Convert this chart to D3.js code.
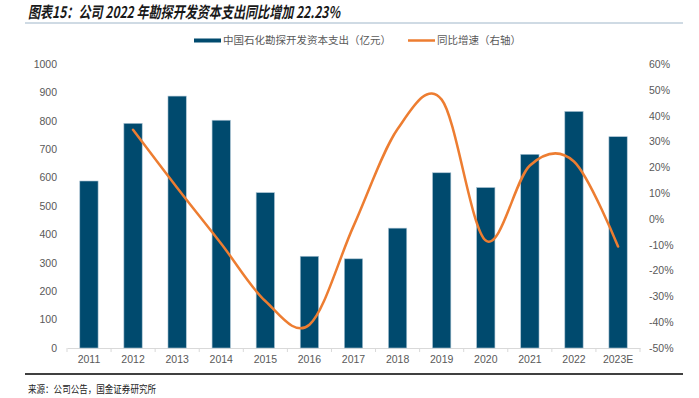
<!DOCTYPE html>
<html>
<head>
<meta charset="utf-8">
<script src="https://cdn.jsdelivr.net/npm/d3@7"></script>
<style>
  body { margin: 0; background: #fff; }
  text { font-family: "Liberation Sans", Arial, "Noto Sans CJK SC", sans-serif; }
</style>
</head>
<body>
<div id="chart"></div>
<script>
// data
var years = ["2011", "2012", "2013", "2014", "2015", "2016", "2017", "2018", "2019", "2020", "2021", "2022", "2023E"];
var capex = [588, 791, 887, 802, 547, 323, 314, 422, 617, 565, 682, 833, 744];
var growth = [null, 34.5, 12.1, -9.6, -31.8, -41.0, -2.8, 34.8, 46.2, -8.4, 20.7, 22.23, -10.7];
var leftTicks = [0, 100, 200, 300, 400, 500, 600, 700, 800, 900, 1000];
var rightTicks = [-50, -40, -30, -20, -10, 0, 10, 20, 30, 40, 50, 60];

var svgW = 699;
var svgH = 398;
var margin = { top: 64, right: 59, bottom: 50, left: 67 };
var width = svgW - margin.left - margin.right;
var height = 348 - margin.top;

var svg = d3.select("#chart")
  .append("svg")
  .attr("width", svgW)
  .attr("height", svgH);

// title + rules
svg.append("text")
  .attr("x", 28)
  .attr("y", 18)
  .attr("font-size", "16px")
  .attr("font-weight", "bold")
  .attr("font-style", "italic")
  .attr("fill", "#1a1a1a")
  .attr("textLength", 312)
  .attr("lengthAdjust", "spacingAndGlyphs")
  .style("font-family", "'Noto Sans CJK SC', sans-serif")
  .text("图表15：公司 2022 年勘探开发资本支出同比增加 22.23%");

svg.append("line")
  .attr("x1", 25).attr("x2", 683)
  .attr("y1", 23).attr("y2", 23)
  .attr("stroke", "#9fb6c9")
  .attr("stroke-width", 1);

svg.append("line")
  .attr("x1", 25).attr("x2", 683)
  .attr("y1", 374).attr("y2", 374)
  .attr("stroke", "#000")
  .attr("stroke-width", 1.5);

svg.append("text")
  .attr("x", 28)
  .attr("y", 393)
  .attr("font-size", "10.5px")
  .attr("fill", "#222")
  .attr("textLength", 128)
  .attr("lengthAdjust", "spacingAndGlyphs")
  .style("font-family", "'Noto Sans CJK SC', sans-serif")
  .text("来源：公司公告，国金证券研究所");

var chartGroup = svg.append("g")
  .attr("transform", `translate(${margin.left}, ${margin.top})`);

// scales
var xScale = d3.scaleBand()
  .domain(years)
  .range([0, width])
  .paddingInner(0.585)
  .paddingOuter(0.29);

var yLeft = d3.scaleLinear()
  .domain([0, 1000])
  .range([height, 0]);

var yRight = d3.scaleLinear()
  .domain([-50, 60])
  .range([height, 0]);

// axes
var leftAxis = d3.axisLeft(yLeft).tickValues(leftTicks).tickSize(0).tickPadding(10)
  .tickFormat(d3.format("d"));
var rightAxis = d3.axisRight(yRight).tickValues(rightTicks).tickSize(0).tickPadding(9)
  .tickFormat(d => d + "%");
var bottomAxis = d3.axisBottom(xScale).tickSize(0).tickPadding(8);

var gl = chartGroup.append("g").call(leftAxis);
gl.select(".domain").remove();

var gr = chartGroup.append("g")
  .attr("transform", `translate(${width}, 0)`)
  .call(rightAxis);
gr.select(".domain").remove();

var gb = chartGroup.append("g")
  .attr("transform", `translate(0, ${height})`)
  .call(bottomAxis);
gb.select(".domain").attr("stroke", "#d9d9d9");

// category boundary ticks
var bounds = d3.range(years.length + 1).map(i => i * width / years.length);
gb.selectAll(".bound")
  .data(bounds)
  .enter()
  .append("line")
  .attr("x1", d => d).attr("x2", d => d)
  .attr("y1", 0).attr("y2", 4)
  .attr("stroke", "#d9d9d9");

chartGroup.selectAll(".tick text")
  .attr("fill", "#595959")
  .attr("font-size", "10.5px");

// bars
chartGroup.selectAll("rect.bar")
  .data(capex)
  .enter()
  .append("rect")
  .attr("class", "bar")
  .attr("x", (d, i) => xScale(years[i]))
  .attr("y", d => yLeft(d))
  .attr("width", xScale.bandwidth())
  .attr("height", d => height - yLeft(d))
  .attr("fill", "#004a6e")
  .attr("stroke", "#a9c2d2")
  .attr("stroke-width", 0.6);

// growth line
var pts = growth.map((g, i) => [xScale(years[i]) + xScale.bandwidth() / 2, g]).filter(p => p[1] !== null);
var line = d3.line()
  .x(d => d[0])
  .y(d => yRight(d[1]))
  .curve(d3.curveCatmullRom.alpha(0));

chartGroup.append("path")
  .datum(pts)
  .attr("d", line)
  .attr("fill", "none")
  .attr("stroke", "#ed7d31")
  .attr("stroke-width", 2.5)
  .attr("stroke-linecap", "round");

// legend
var legend = svg.append("g");
legend.append("rect")
  .attr("x", 194).attr("y", 38.5)
  .attr("width", 27).attr("height", 4)
  .attr("fill", "#004a6e");
legend.append("text")
  .attr("x", 223).attr("y", 44)
  .attr("font-size", "10.5px")
  .attr("fill", "#595959")
  .style("font-family", "'Noto Sans CJK SC', sans-serif")
  .text("中国石化勘探开发资本支出（亿元）");
legend.append("line")
  .attr("x1", 408).attr("x2", 435)
  .attr("y1", 40.5).attr("y2", 40.5)
  .attr("stroke", "#ed7d31")
  .attr("stroke-width", 2.5);
legend.append("text")
  .attr("x", 437).attr("y", 44)
  .attr("font-size", "10.5px")
  .attr("fill", "#595959")
  .style("font-family", "'Noto Sans CJK SC', sans-serif")
  .text("同比增速（右轴）");
</script>
</body>
</html>
